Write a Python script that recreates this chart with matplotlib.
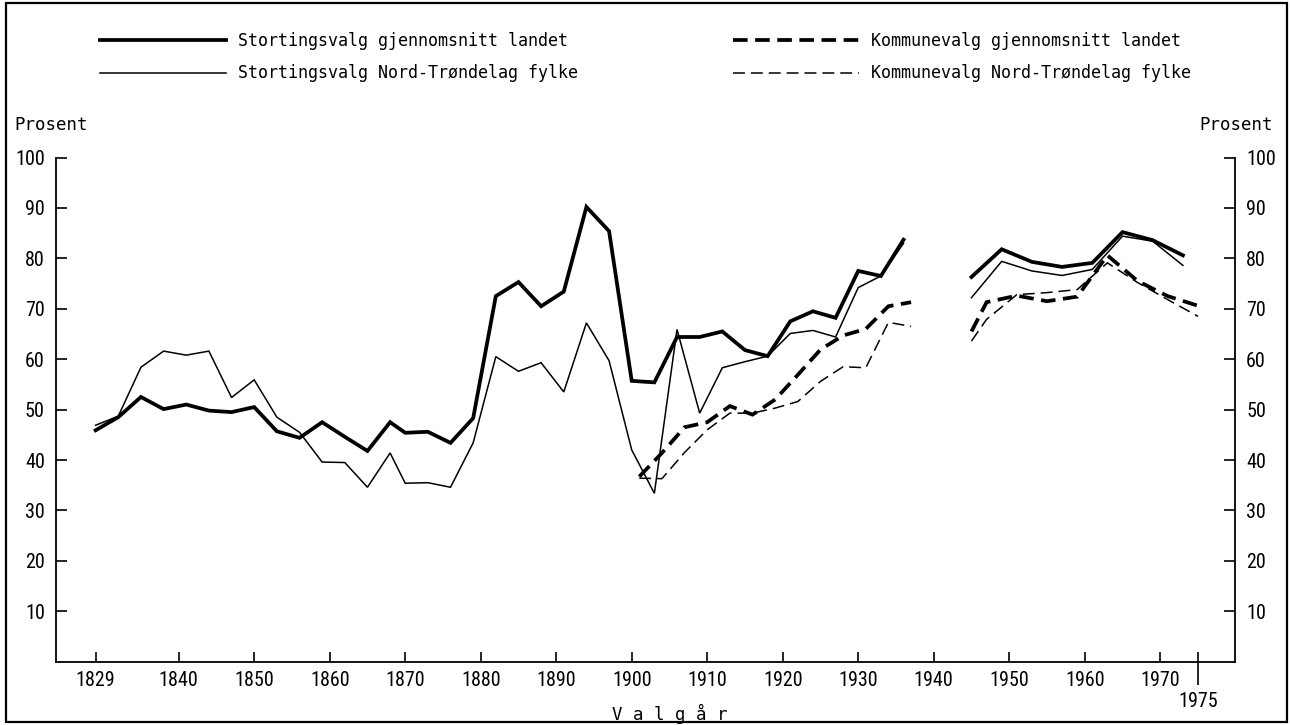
import os
import matplotlib
matplotlib.use("Agg")
import matplotlib.pyplot as plt
from matplotlib import font_manager as fm
from matplotlib.ticker import FixedLocator, FixedFormatter
from matplotlib.patches import Rectangle

# ---------------- data ----------------
storting_years_1 = [1829, 1832, 1835, 1838, 1841, 1844, 1847, 1850, 1853, 1856, 1859, 1862, 1865,
                    1868, 1870, 1873, 1876, 1879, 1882, 1885, 1888, 1891, 1894, 1897,
                    1900, 1903, 1906, 1909, 1912, 1915, 1918, 1921, 1924, 1927, 1930, 1933, 1936]
storting_landet_1 = [45.9, 48.5, 52.5, 50.1, 51.0, 49.8, 49.5, 50.5, 45.7, 44.4, 47.5, 44.6, 41.8,
                     47.5, 45.4, 45.6, 43.4, 48.3, 72.5, 75.3, 70.5, 73.4, 90.2, 85.4,
                     55.7, 55.4, 64.4, 64.4, 65.5, 61.8, 60.6, 67.5, 69.5, 68.2, 77.5, 76.5, 83.7]
storting_nt_1 = [46.9, 48.7, 58.4, 61.6, 60.8, 61.6, 52.4, 55.9, 48.5, 45.5, 39.6, 39.5, 34.6,
                 41.4, 35.4, 35.5, 34.6, 43.4, 60.5, 57.6, 59.3, 53.5, 67.2, 59.7,
                 42.0, 33.4, 65.9, 49.3, 58.3, 59.5, 60.6, 65.1, 65.7, 64.4, 74.2, 76.5, 83.0]
storting_years_2 = [1945, 1949, 1953, 1957, 1961, 1965, 1969, 1973]
storting_landet_2 = [76.3, 81.8, 79.3, 78.3, 79.1, 85.2, 83.6, 80.6]
storting_nt_2 = [72.2, 79.4, 77.5, 76.6, 77.8, 84.4, 83.4, 78.6]

kommune_years_1 = [1901, 1904, 1907, 1910, 1913, 1916, 1919, 1922, 1925, 1928, 1931, 1934, 1937]
kommune_landet_1 = [36.7, 41.4, 46.5, 47.5, 50.7, 49.0, 52.0, 56.9, 61.9, 64.7, 66.0, 70.5, 71.3]
kommune_nt_1 = [36.4, 36.3, 41.5, 46.0, 49.3, 49.3, 50.3, 51.6, 55.6, 58.5, 58.3, 67.3, 66.5]
kommune_years_2 = [1945, 1947, 1951, 1955, 1959, 1963, 1967, 1971, 1975]
kommune_landet_2 = [65.5, 71.3, 72.6, 71.5, 72.4, 80.6, 75.5, 72.5, 70.6]
kommune_nt_2 = [63.6, 67.9, 72.8, 73.2, 73.8, 79.1, 75.2, 71.8, 68.5]

x_ticks = [1829, 1840, 1850, 1860, 1870, 1880, 1890, 1900, 1910, 1920, 1930, 1940, 1950, 1960, 1970]
x_tick_labels = [str(v) for v in x_ticks]
end_year = 1975
y_ticks = [10, 20, 30, 40, 50, 60, 70, 80, 90, 100]
y_tick_labels = [str(v) for v in y_ticks]

labels = ["Stortingsvalg gjennomsnitt landet",
          "Stortingsvalg Nord-Trøndelag fylke",
          "Kommunevalg gjennomsnitt landet",
          "Kommunevalg Nord-Trøndelag fylke"]

# ---------------- fonts: look for a condensed sans for the tick numbers ----------------
def pick_condensed():
    prefs = [("liberationsansnarrow-regular", 14.0),
             ("robotocondensed-regular", 14.4),
             ("notosans-condensed.", 14.4),
             ("notosans-condensed-regular", 14.4),
             ("opensans-condensedregular", 14.4),
             ("opensans_condensed-regular", 14.4),
             ("dejavusanscondensed.", 13.0)]
    files = {os.path.basename(f.fname).lower(): f.fname for f in fm.fontManager.ttflist}
    for key, size in prefs:
        for base, path in files.items():
            if base.startswith(key) or base.replace(".ttf", ".") == key:
                return fm.FontProperties(fname=path, size=size)
    return fm.FontProperties(family=["Liberation Sans", "DejaVu Sans"], size=13.5)

tick_fp = pick_condensed()
mono_font = ["DejaVu Sans Mono"]

# ---------------- figure ----------------
W, H = 1290, 725
fig = plt.figure(figsize=(W / 100, H / 100), dpi=100)
fig.patch.set_facecolor("white")

ax_left, ax_right, ax_bottom, ax_top = 56, 1235, 661.7, 157.5
ax = fig.add_axes([ax_left / W, 1 - ax_bottom / H, (ax_right - ax_left) / W, (ax_bottom - ax_top) / H])

thick = dict(color="black", lw=2.7, solid_joinstyle="miter")
thin = dict(color="black", lw=1.1, solid_joinstyle="miter")
thick_d = dict(color="black", lw=2.7, dashes=(3.9, 2.0), dash_joinstyle="miter")
thin_d = dict(color="black", lw=1.1, dashes=(7.8, 3.9), dash_joinstyle="miter")

h1, = ax.plot(storting_years_1, storting_landet_1, **thick)
ax.plot(storting_years_2, storting_landet_2, **thick)
h2, = ax.plot(storting_years_1, storting_nt_1, **thin)
ax.plot(storting_years_2, storting_nt_2, **thin)
h3, = ax.plot(kommune_years_1, kommune_landet_1, **thick_d)
ax.plot(kommune_years_2, kommune_landet_2, **thick_d)
h4, = ax.plot(kommune_years_1, kommune_nt_1, **thin_d)
ax.plot(kommune_years_2, kommune_nt_2, **thin_d)

ax.set_xlim(1823.75, 1979.9)
ax.set_ylim(0, 100)

for s in ["left", "right", "bottom"]:
    ax.spines[s].set_linewidth(1.3)
ax.spines["top"].set_visible(False)

# y ticks (both sides, inward)
ax.yaxis.set_major_locator(FixedLocator(y_ticks))
ax.yaxis.set_major_formatter(FixedFormatter(y_tick_labels))
ax.tick_params(axis="y", which="major", direction="in", length=8, width=1.2,
               left=True, right=True, labelleft=True, labelright=True, pad=8)

# x ticks
ax.xaxis.remove_overlapping_locs = False
ax.xaxis.set_major_locator(FixedLocator(x_ticks + [end_year]))
ax.xaxis.set_major_formatter(FixedFormatter(x_tick_labels + [""]))
ax.xaxis.set_minor_locator(FixedLocator([end_year]))
ax.xaxis.set_minor_formatter(FixedFormatter([str(end_year)]))
ax.tick_params(axis="x", which="major", direction="in", length=7.5, width=1.2, pad=7)
ax.tick_params(axis="x", which="minor", direction="out", length=16.5, width=1.2, pad=5)

fig.canvas.draw()
for lab in ax.get_xticklabels(which="both") + ax.get_yticklabels(which="both"):
    lab.set_fontproperties(tick_fp)
for t in ax.yaxis.get_major_ticks():
    t.label2.set_fontproperties(tick_fp)

# axis captions
fig.text(14 / W, 1 - 125 / H, "Prosent", family=mono_font, fontsize=12.5, ha="left", va="center")
fig.text(1273 / W, 1 - 125 / H, "Prosent", family=mono_font, fontsize=12.5, ha="right", va="center")
fig.text(670 / W, 1 - 714 / H, "V a l g å r", family=mono_font, fontsize=12.5, ha="center", va="center")

# legend
fig.legend([h1, h2, h3, h4], labels, loc="upper left",
           bbox_to_anchor=(100 / W, 1 - 32 / H), bbox_transform=fig.transFigure,
           ncol=2, frameon=False, prop={"family": mono_font, "size": 12},
           handlelength=7.56, handletextpad=0.72, columnspacing=9.3,
           labelspacing=0.87, borderpad=0, borderaxespad=0)

# frame around the whole figure
fig.patches.append(Rectangle((6 / W, 3 / H), 1281 / W, 719 / H, transform=fig.transFigure,
                             fill=False, lw=1.6, edgecolor="black"))

fig.savefig("out.png", dpi=100)
